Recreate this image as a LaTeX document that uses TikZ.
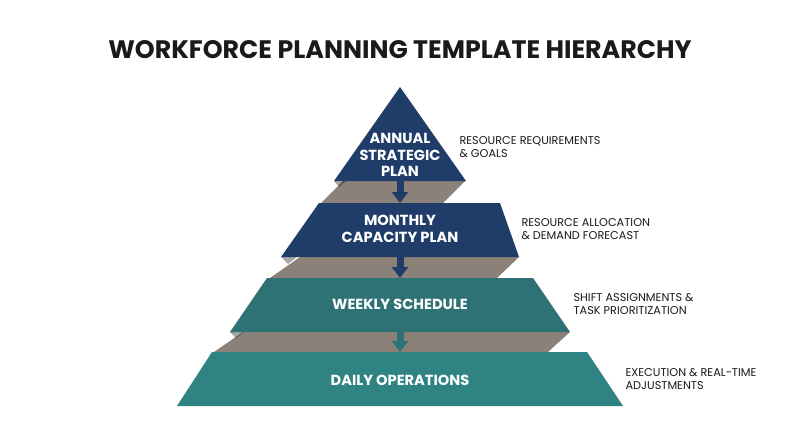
\documentclass[tikz,border=0pt]{standalone}
\usepackage{fontspec}
\setmainfont{Poppins}
\usepackage[HTML]{xcolor}
\usetikzlibrary{positioning, arrows.meta}
\definecolor{navy}{HTML}{203D69}
\definecolor{tealdark}{HTML}{2E7276}
\definecolor{teallight}{HTML}{2F8383}
\definecolor{slab}{HTML}{8C8179}
\definecolor{ink}{HTML}{1A1A1A}

\begin{document}
\begin{tikzpicture}[x=1pt, y=-1pt,
  tierlabel/.style={text=white, font=\bfseries\fontsize{14.6}{16.5}\selectfont, align=center},
  sidelabel/.style={text=ink, font=\fontsize{11.3}{13}\selectfont, align=left, anchor=west},
  flow/.style={-{Triangle[width=16pt,length=11pt]}, line width=7pt},
  corner/.style={fill=black, opacity=0.35}]
\useasboundingbox (0,0) rectangle (800,447);
\fill[white] (0,0) rectangle (800,447);

% --- Title ---
\node[font=\bfseries\fontsize{25.3}{30}\selectfont, text=ink] (title) at (400,50) {WORKFORCE PLANNING TEMPLATE HIERARCHY};

% --- Gray steps between tiers ---
\fill[slab] (343,181) -- (465,181) -- (443,203) -- (321,203) -- cycle;
\fill[slab] (300,257) -- (519,257) -- (497,278) -- (270,278) -- cycle;
\fill[slab] (243,332) -- (570,332) -- (548,352) -- (214,352) -- cycle;

% --- Tiers ---
\fill[navy] (400,87) -- (466,181) -- (334,181) -- cycle;
\fill[navy] (319,203) -- (500,203) -- (519,257) -- (281,257) -- cycle;
\fill[tealdark] (267,278) -- (533,278) -- (570,332) -- (230,332) -- cycle;
\fill[teallight] (212,352) -- (587,352) -- (623,406) -- (177,406) -- cycle;
\fill[corner] (334,181) -- (346,181) -- (339,187) -- cycle;
\fill[corner] (281,257) -- (297,257) -- (288,264) -- cycle;
\fill[corner] (230,332) -- (244,332) -- (236,338) -- cycle;

% --- Arrow ends ---
\coordinate (t1b) at (400,176);
\coordinate (t2t) at (400,203);
\coordinate (t2b) at (400,252);
\coordinate (t3t) at (400,278);
\coordinate (t3b) at (400,327);
\coordinate (t4t) at (400,352);
\draw[flow, navy] (t1b) -- (t2t);
\draw[flow, navy] (t2b) -- (t3t);
\draw[flow, tealdark] (t3b) -- (t4t);

% --- Tier labels ---
\node[tierlabel] (annual) at (400,155) {ANNUAL\\STRATEGIC\\PLAN};
\node[tierlabel] (monthly) at (400,229) {MONTHLY\\CAPACITY PLAN};
\node[tierlabel] (weekly) at (400,304) {WEEKLY SCHEDULE};
\node[tierlabel] (daily) at (400,380) {DAILY OPERATIONS};

% --- Side notes ---
\node[sidelabel] (goals) at (456,147) {RESOURCE REQUIREMENTS\\\& GOALS};
\node[sidelabel] (forecast) at (518,229) {RESOURCE ALLOCATION\\\& DEMAND FORECAST};
\node[sidelabel] (shifts) at (570,304) {SHIFT ASSIGNMENTS \&\\TASK PRIORITIZATION};
\node[sidelabel] (realtime) at (622,379) {EXECUTION \& REAL-TIME\\ADJUSTMENTS};
\end{tikzpicture}
\end{document}
